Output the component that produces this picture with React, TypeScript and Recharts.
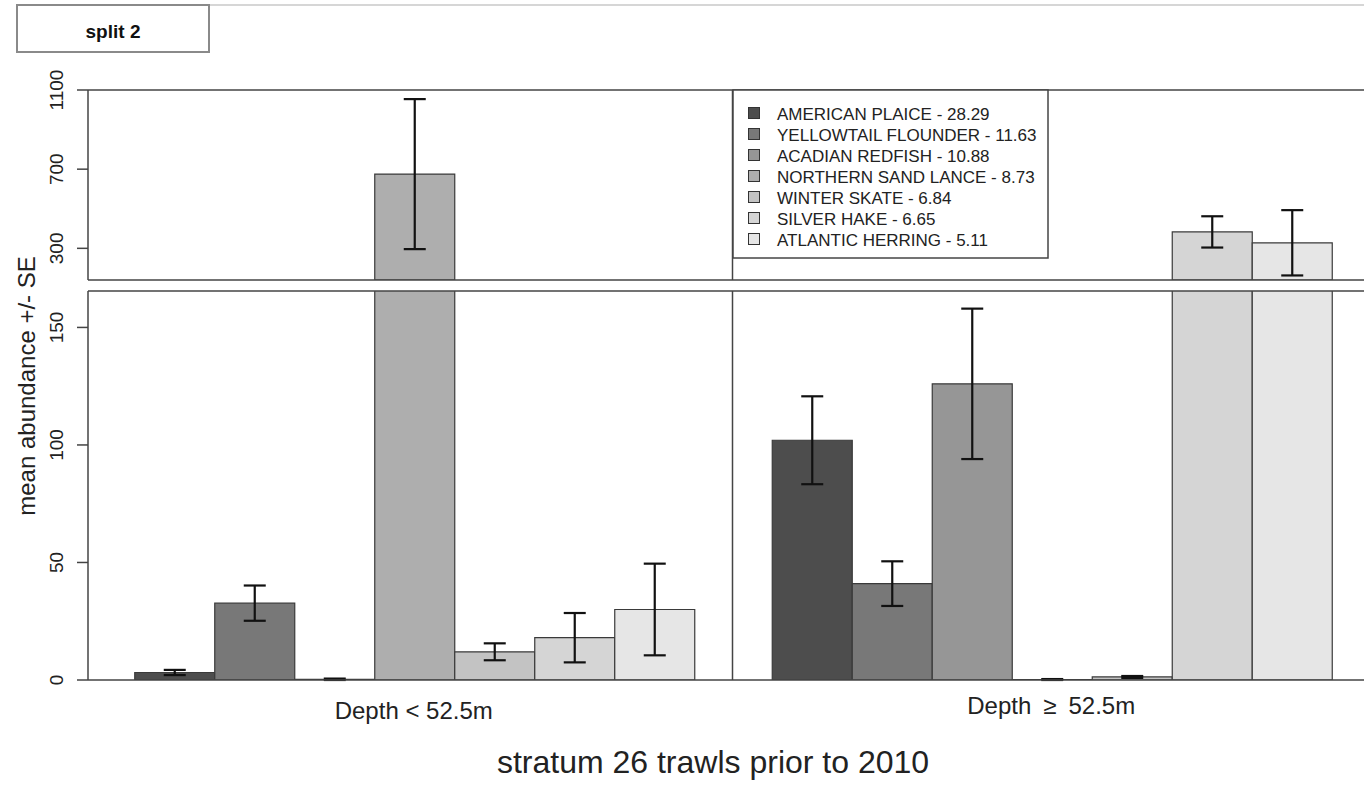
import React from 'react';
import { BarChart, Bar, XAxis, YAxis, ErrorBar, ReferenceLine } from 'recharts';

const FONT = '"Liberation Sans", Arial, Helvetica, sans-serif';

const categories = ['Depth < 52.5m', 'Depth \u2265 52.5m'];
const species = [
  'AMERICAN PLAICE',
  'YELLOWTAIL FLOUNDER',
  'ACADIAN REDFISH',
  'NORTHERN SAND LANCE',
  'WINTER SKATE',
  'SILVER HAKE',
  'ATLANTIC HERRING',
];
const speciesScore = ['28.29', '11.63', '10.88', '8.73', '6.84', '6.65', '5.11'];
const colors = ['#4D4D4D', '#787878', '#969696', '#AEAEAE', '#C3C3C3', '#D5D5D5', '#E6E6E6'];

const meanShallow = [3.2, 32.7, 0.3, 675, 12, 18, 30];
const seShallow = [1.1, 7.5, 0.3, 379, 3.6, 10.5, 19.5];
const meanDeep = [102, 41, 126, 0.2, 1.3, 383, 328];
const seDeep = [18.7, 9.5, 32, 0.2, 0.4, 79, 165];

const topTicks = [300, 700, 1100];
const bottomTicks = [0, 50, 100, 150];
const topDomain: [number, number] = [140, 1100];
const bottomDomain: [number, number] = [0, 165.5];

const yLabel = 'mean abundance +/- SE';
const xTitle = 'stratum 26 trawls prior to 2010';
const cornerLabel = 'split 2';

function panelRows(lo: number, hi: number) {
  return categories.map((cat, ci) => {
    const means = ci === 0 ? meanShallow : meanDeep;
    const ses = ci === 0 ? seShallow : seDeep;
    const row: any = { cat };
    species.forEach((_, i) => {
      const m = means[i];
      const visible = m > lo;
      row[`m${i}`] = visible ? m : null;
      row[`e${i}`] = visible && m <= hi ? ses[i] : null;
    });
    return row;
  });
}

const topRows = panelRows(topDomain[0], topDomain[1]);
const bottomRows = panelRows(-1, bottomDomain[1]);

const YTick = (props: any) => {
  const { x, y, payload } = props;
  const tx = x - 12;
  return (
    <text x={tx} y={y} transform={`rotate(-90 ${tx} ${y})`} textAnchor="middle" fontSize={19} fontFamily={FONT} fill="#222">
      {payload.value}
    </text>
  );
};

const XTick = (props: any) => {
  const { x, y, payload } = props;
  const label: string = String(payload.value);
  const isMath = label.includes('\u2265');
  const shown = isMath ? label.replace(' \u2265 ', '\u2002\u2265\u2002') : label;
  return (
    <text x={x} y={y + (isMath ? 34 : 39)} textAnchor="middle" fontSize={24} fontFamily={FONT} fill="#222">
      {shown}
    </text>
  );
};

const AXIS = '#444';
const AXIS_LINE = { stroke: AXIS, strokeWidth: 1.5 };
const PAD = { left: 7, right: 7 };

function renderBars() {
  return species.map((s, i) => (
    <Bar
      key={s}
      dataKey={`m${i}`}
      name={s}
      fill={colors[i]}
      stroke="#3a3a3a"
      strokeWidth={1.2}
      isAnimationActive={false}
    >
      <ErrorBar dataKey={`e${i}`} width={11} strokeWidth={2.2} stroke="#111" direction="y" />
    </Bar>
  ));
}

function renderFrame() {
  return [
    <XAxis key="topline" xAxisId="topline" orientation="top" dataKey="cat" padding={PAD} height={1} tick={false} tickLine={false} axisLine={AXIS_LINE} />,
    <ReferenceLine key="sep" x={categories[0]} position="end" stroke={AXIS} strokeWidth={1.5} ifOverflow="visible" />,
  ];
}

export default function App() {
  const chartW = 1380;
  return (
    <div style={{ position: 'absolute', left: 0, top: 0, width: 1364, height: 785, overflow: 'hidden', background: '#fff' }}>
      {/* bottom panel */}
      <div style={{ position: 'absolute', left: 0, top: 0 }}>
        <BarChart
          width={chartW}
          height={785}
          data={bottomRows}
          margin={{ top: 290, right: 3, bottom: 0, left: 0 }}
          barCategoryGap={39.75}
          barGap={0}
        >
          <XAxis
            dataKey="cat"
            height={105}
            padding={PAD}
            tickLine={false}
            tickSize={0}
            tickMargin={0}
            axisLine={AXIS_LINE}
            tick={<XTick />}
            interval={0}
          />
          <YAxis
            width={88}
            domain={bottomDomain}
            ticks={bottomTicks}
            allowDataOverflow
            interval={0}
            tickSize={11}
            tickMargin={2}
            axisLine={AXIS_LINE}
            tickLine={AXIS_LINE}
            tick={<YTick />}
          />
          {renderBars()}
          {renderFrame()}
        </BarChart>
      </div>
      {/* top panel */}
      <div style={{ position: 'absolute', left: 0, top: 0 }}>
        <BarChart
          width={chartW}
          height={290}
          data={topRows}
          margin={{ top: 89, right: 3, bottom: 9, left: 0 }}
          barCategoryGap={39.75}
          barGap={0}
        >
          <XAxis dataKey="cat" padding={PAD} height={1} tick={false} tickLine={false} axisLine={AXIS_LINE} />
          <YAxis
            width={88}
            domain={topDomain}
            ticks={topTicks}
            allowDataOverflow
            interval={0}
            tickSize={11}
            tickMargin={2}
            axisLine={AXIS_LINE}
            tickLine={AXIS_LINE}
            tick={<YTick />}
          />
          {renderBars()}
          {renderFrame()}
        </BarChart>
      </div>
      {/* annotations */}
      <svg width={1364} height={785} style={{ position: 'absolute', left: 0, top: 0, pointerEvents: 'none' }}>
        <line x1={210} y1={5} x2={1364} y2={5} stroke="#c8c8c8" strokeWidth={1.5} />
        <rect x={17} y={5} width={192} height={47} fill="#fff" stroke="#8a8a8a" strokeWidth={2} />
        <text x={113} y={38} textAnchor="middle" fontSize={19} fontWeight="bold" fontFamily={FONT} fill="#111">
          {cornerLabel}
        </text>
        <text x={35} y={386} transform="rotate(-90 35 386)" textAnchor="middle" fontSize={24} fontFamily={FONT} fill="#222">
          {yLabel}
        </text>
        <text x={713} y={773} textAnchor="middle" fontSize={32} fontFamily={FONT} fill="#222">
          {xTitle}
        </text>
        <g>
          <rect x={733} y={90} width={315} height={168} fill="#fff" stroke={AXIS} strokeWidth={1.5} />
          {species.map((s, i) => (
            <g key={s}>
              <rect x={748.5} y={107.5 + i * 21} width={11} height={11} fill={colors[i]} stroke="#333" strokeWidth={1} />
              <text x={777} y={119.5 + i * 21} fontSize={17} fontFamily={FONT} fill="#222">
                {`${s} - ${speciesScore[i]}`}
              </text>
            </g>
          ))}
        </g>
      </svg>
    </div>
  );
}
